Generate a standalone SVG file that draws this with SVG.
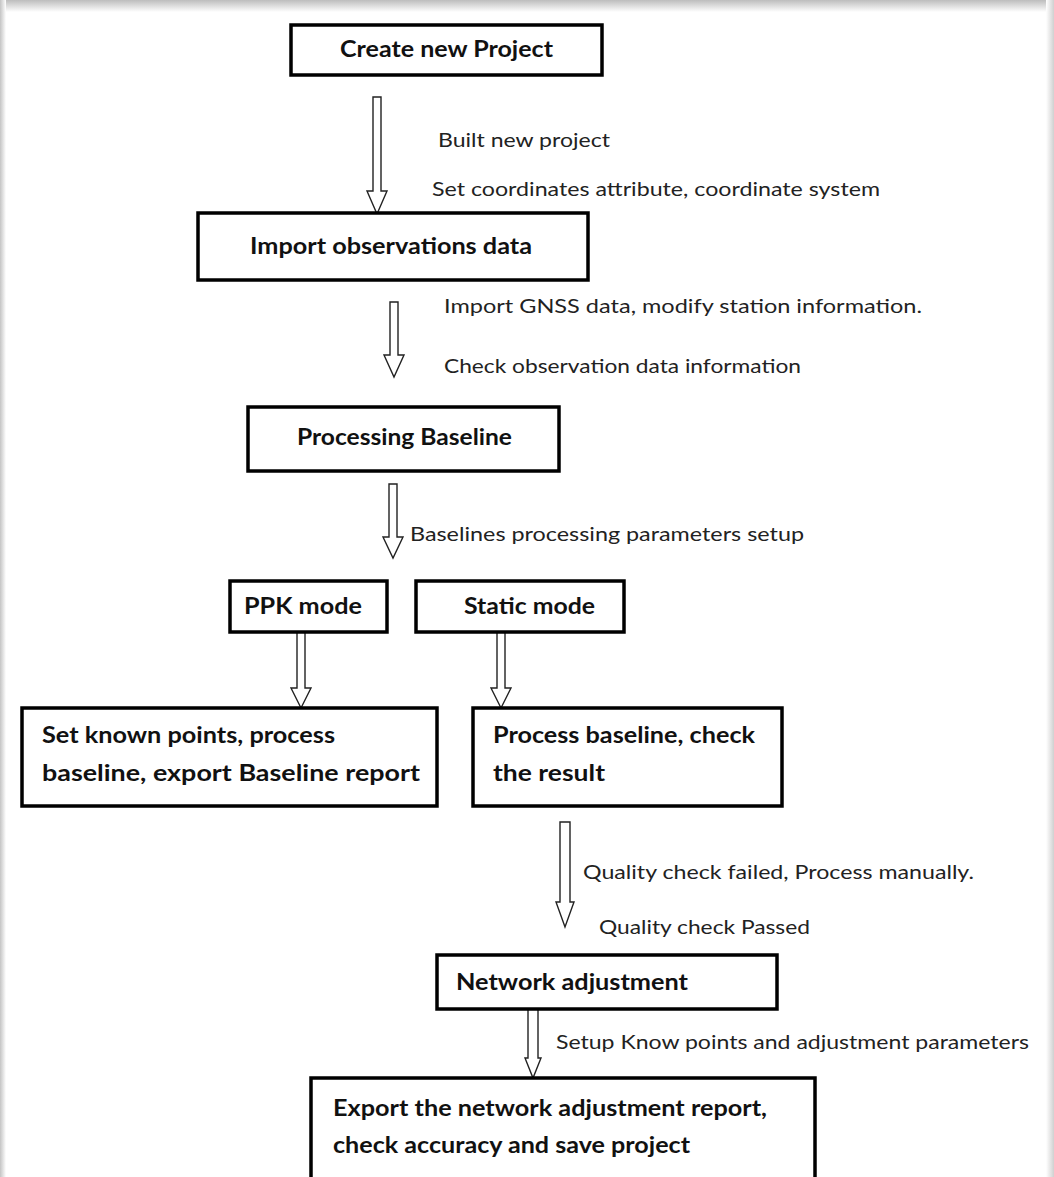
<svg xmlns="http://www.w3.org/2000/svg" width="1054" height="1177" viewBox="0 0 1054 1177">
<defs>
<linearGradient id="topShade" x1="0" y1="0" x2="0" y2="1"><stop offset="0" stop-color="#bdbdbd"/><stop offset="1" stop-color="#ffffff"/></linearGradient>
<linearGradient id="leftShade" x1="0" y1="0" x2="1" y2="0"><stop offset="0" stop-color="#c4c4c4"/><stop offset="1" stop-color="#ffffff"/></linearGradient>
<linearGradient id="rightShade" x1="1" y1="0" x2="0" y2="0"><stop offset="0" stop-color="#d0d0d0"/><stop offset="1" stop-color="#ffffff"/></linearGradient>
</defs>
<style>
.box{fill:#fff;stroke:#000;stroke-width:3.5}
.arrow{fill:#fff;stroke:#222;stroke-width:1.4;stroke-linejoin:miter}
.t{font-family:Lato,"Liberation Sans",Arial,sans-serif;font-weight:bold;font-size:22px;fill:#111}
.l{font-family:Lato,"Liberation Sans",Arial,sans-serif;font-size:19px;fill:#222}
</style>
<rect width="1054" height="1177" fill="#fff"/>
<rect x="0" y="0" width="1054" height="12" fill="url(#topShade)"/>
<rect x="0" y="0" width="6" height="1177" fill="url(#leftShade)"/>
<rect x="1046" y="0" width="8" height="1177" fill="url(#rightShade)"/>

<g id="connectors">
<path class="arrow" d="M373 97 H381 V191 H387 L377 214 L367 191 H373 Z"/>
<path class="arrow" d="M390 302 H398 V355 H404 L394 377 L384 355 H390 Z"/>
<path class="arrow" d="M389 484 H397 V537 H403 L393 558 L383 537 H389 Z"/>
<path class="arrow" d="M297 632 H305 V688 H311 L301 708 L291 688 H297 Z"/>
<path class="arrow" d="M497 632 H505 V688 H511 L501 708 L491 688 H497 Z"/>
<path class="arrow" d="M560 822 H570 V902 H574 L565 927 L556 902 H560 Z"/>
<path class="arrow" d="M528 1009 H538 V1058 H541 L533 1078 L525 1058 H528 Z"/>
</g>

<g id="labels">
<text class="l" x="438" y="147" textLength="172" lengthAdjust="spacingAndGlyphs">Built new project</text>
<text class="l" x="432" y="196" textLength="448" lengthAdjust="spacingAndGlyphs">Set coordinates attribute, coordinate system</text>
<text class="l" x="444" y="313" textLength="478" lengthAdjust="spacingAndGlyphs">Import GNSS data, modify station information.</text>
<text class="l" x="444" y="373" textLength="357" lengthAdjust="spacingAndGlyphs">Check observation data information</text>
<text class="l" x="410" y="541" textLength="394" lengthAdjust="spacingAndGlyphs">Baselines processing parameters setup</text>
<text class="l" x="583" y="879" textLength="391" lengthAdjust="spacingAndGlyphs">Quality check failed, Process manually.</text>
<text class="l" x="599" y="934" textLength="211" lengthAdjust="spacingAndGlyphs">Quality check Passed</text>
<text class="l" x="556" y="1049" textLength="473" lengthAdjust="spacingAndGlyphs">Setup Know points and adjustment parameters</text>
</g>

<g id="node-create">
<rect class="box" x="291" y="25" width="311" height="50"/>
<text class="t" x="340" y="57" textLength="213" lengthAdjust="spacingAndGlyphs">Create new Project</text>
</g>
<g id="node-import">
<rect class="box" x="198" y="213" width="390" height="67"/>
<text class="t" x="250" y="254" textLength="282" lengthAdjust="spacingAndGlyphs">Import observations data</text>
</g>
<g id="node-processing">
<rect class="box" x="248" y="407" width="311" height="64"/>
<text class="t" x="297" y="445" textLength="215" lengthAdjust="spacingAndGlyphs">Processing Baseline</text>
</g>
<g id="node-ppk">
<rect class="box" x="230" y="581" width="157" height="51"/>
<text class="t" x="244" y="614" textLength="118" lengthAdjust="spacingAndGlyphs">PPK mode</text>
</g>
<g id="node-static">
<rect class="box" x="416" y="581" width="208" height="51"/>
<text class="t" x="464" y="614" textLength="131" lengthAdjust="spacingAndGlyphs">Static mode</text>
</g>
<g id="node-ppk-result">
<rect class="box" x="22" y="708" width="415" height="98"/>
<text class="t" x="42" y="743" textLength="293" lengthAdjust="spacingAndGlyphs">Set known points, process</text>
<text class="t" x="42" y="781" textLength="378" lengthAdjust="spacingAndGlyphs">baseline, export Baseline report</text>
</g>
<g id="node-static-result">
<rect class="box" x="473" y="708" width="309" height="98"/>
<text class="t" x="493" y="743" textLength="262" lengthAdjust="spacingAndGlyphs">Process baseline, check</text>
<text class="t" x="493" y="781" textLength="112" lengthAdjust="spacingAndGlyphs">the result</text>
</g>
<g id="node-network">
<rect class="box" x="437" y="955" width="340" height="54"/>
<text class="t" x="456" y="990" textLength="232" lengthAdjust="spacingAndGlyphs">Network adjustment</text>
</g>
<g id="node-export">
<rect class="box" x="311" y="1078" width="504" height="122"/>
<text class="t" x="333" y="1116" textLength="434" lengthAdjust="spacingAndGlyphs">Export the network adjustment report,</text>
<text class="t" x="333" y="1153" textLength="357" lengthAdjust="spacingAndGlyphs">check accuracy and save project</text>
</g>
</svg>
